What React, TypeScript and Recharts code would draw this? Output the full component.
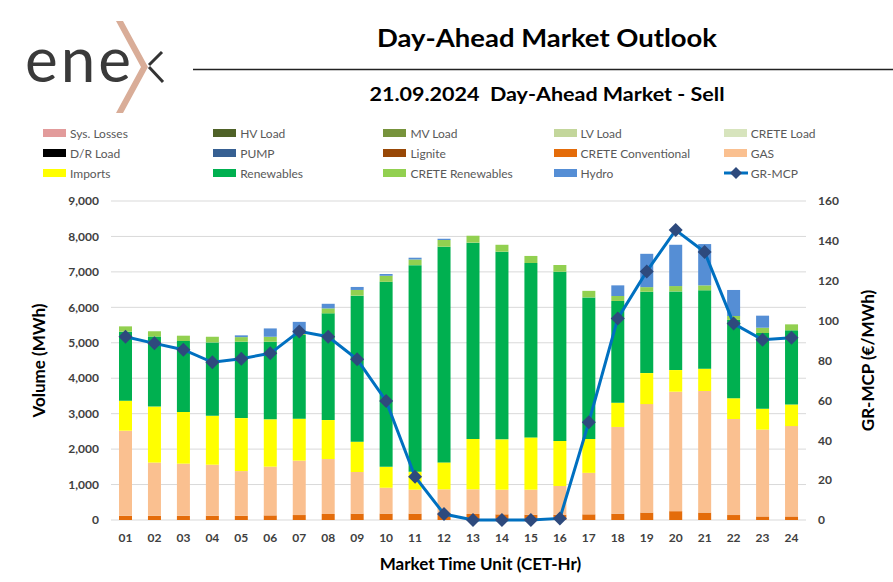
import React from "react";
import { ComposedChart, Bar, Line, XAxis, YAxis, CartesianGrid, Legend } from "recharts";

const FONT = "Lato, 'Open Sans', sans-serif";

// market time units
const hours = ["01", "02", "03", "04", "05", "06", "07", "08", "09", "10", "11", "12",
  "13", "14", "15", "16", "17", "18", "19", "20", "21", "22", "23", "24"];

// series that are empty on this day
const zeros = [0, 0, 0, 0, 0, 0, 0, 0, 0, 0, 0, 0, 0, 0, 0, 0, 0, 0, 0, 0, 0, 0, 0, 0];

const creteConventional = [120, 120, 120, 120, 120, 130, 140, 170, 180, 180, 180, 170,
  170, 160, 150, 150, 160, 180, 210, 250, 210, 140, 100, 100];
const gas = [2400, 1500, 1470, 1440, 1260, 1375, 1535, 1550, 1175, 730, 675, 695,
  695, 695, 705, 810, 1170, 2445, 3060, 3370, 3430, 2710, 2450, 2550];
const imports = [846, 1580, 1460, 1380, 1495, 1335, 1185, 1100, 855, 590, 505, 760,
  1420, 1420, 1475, 1270, 955, 685, 875, 610, 630, 585, 590, 610];
const renewables = [1947, 1975, 2000, 2070, 2155, 2190, 2360, 3010, 4120, 5220, 5830, 6085,
  5540, 5295, 4920, 4775, 3995, 2870, 2295, 2220, 2210, 2210, 2135, 2090];
const creteRenewables = [150, 150, 150, 160, 130, 140, 30, 140, 160, 170, 160, 190,
  195, 195, 200, 190, 185, 140, 130, 150, 140, 110, 150, 170];
const hydro = [0, 0, 0, 0, 50, 235, 340, 130, 85, 50, 50, 35,
  0, 0, 0, 0, 0, 300, 940, 1165, 1165, 735, 340, 0];

// GR-MCP price, €/MWh
const grMcp = [91.9, 88.6, 85.4, 79.1, 80.9, 83.6, 94.6, 91.9, 80.6, 59.7, 21.7, 3.0,
  0, 0, 0, 0.8, 49.0, 101.1, 124.7, 145.4, 134.4, 98.5, 90.4, 91.4];

const volumeTicks = [0, 1000, 2000, 3000, 4000, 5000, 6000, 7000, 8000, 9000];
const priceTicks = [0, 20, 40, 60, 80, 100, 120, 140, 160];

const series = [
  { key: "sysLosses", name: "Sys. Losses", color: "#E29B9B", values: zeros },
  { key: "hvLoad", name: "HV Load", color: "#4F6228", values: zeros },
  { key: "mvLoad", name: "MV Load", color: "#77933C", values: zeros },
  { key: "lvLoad", name: "LV Load", color: "#C3D69B", values: zeros },
  { key: "creteLoad", name: "CRETE Load", color: "#D7E4BD", values: zeros },
  { key: "drLoad", name: "D/R Load", color: "#000000", values: zeros },
  { key: "pump", name: "PUMP", color: "#376092", values: zeros },
  { key: "lignite", name: "Lignite", color: "#984807", values: zeros },
  { key: "creteConv", name: "CRETE Conventional", color: "#E46C0A", values: creteConventional },
  { key: "gas", name: "GAS", color: "#FAC090", values: gas },
  { key: "imports", name: "Imports", color: "#FFFF00", values: imports },
  { key: "renewables", name: "Renewables", color: "#00B050", values: renewables },
  { key: "creteRen", name: "CRETE Renewables", color: "#92D050", values: creteRenewables },
  { key: "hydro", name: "Hydro", color: "#558ED5", values: hydro },
];

const data = hours.map((hour, i) => {
  const row: Record<string, number | string> = { hour, mcp: grMcp[i] };
  series.forEach((s) => {
    row[s.key] = s.values[i];
  });
  return row;
});

const legendOrder = [...series.map((s) => s.name), "GR-MCP"];

function LegendGrid(props: any) {
  const payload: any[] = props.payload || [];
  const items = legendOrder
    .map((n) => payload.find((p) => p.value === n))
    .filter(Boolean);
  return (
    <div style={{ position: "relative", width: 893, height: 60, fontFamily: FONT, fontSize: 12, color: "#595959" }}>
      {items.map((it: any, i: number) => {
        const col = i % 5;
        const row = Math.floor(i / 5);
        const isLine = it.value === "GR-MCP";
        return (
          <div
            key={it.value}
            style={{ position: "absolute", left: 43 + col * 170.2, top: row * 20, height: 16, display: "flex", alignItems: "center" }}
          >
            {isLine ? (
              <svg width={24} height={14} style={{ marginRight: 3 }}>
                <line x1={0} y1={7} x2={24} y2={7} stroke="#0070C0" strokeWidth={3} />
                <polygon points="12,1 18,7 12,13 6,7" fill="#2E4A7D" />
              </svg>
            ) : (
              <span style={{ display: "inline-block", width: 23, height: 8, background: it.color, marginRight: 4 }} />
            )}
            <span>{it.value}</span>
          </div>
        );
      })}
    </div>
  );
}

function Diamond(props: any) {
  const { cx, cy, index } = props;
  if (cx == null || cy == null) return null;
  return (
    <polygon
      key={`d-${index}`}
      points={`${cx},${cy - 7} ${cx + 7},${cy} ${cx},${cy + 7} ${cx - 7},${cy}`}
      fill="#2E4A7D"
    />
  );
}

const tickStyle = { fill: "#404040", fontSize: 12, fontWeight: 700, fontFamily: FONT };
const labelStyle = { fill: "#000", fontSize: 17, fontWeight: 700, fontFamily: FONT };

export default function App() {
  return (
    <div style={{ position: "absolute", left: 0, top: 0, width: 893, height: 582, background: "#fff" }}>
      <ComposedChart
        width={893}
        height={582}
        data={data}
        margin={{ top: 201, right: 0, bottom: 0, left: 0 }}
      >
        <CartesianGrid yAxisId="left" vertical={false} stroke="#D9D9D9" />
        <XAxis
          dataKey="hour"
          height={62}
          axisLine={false}
          tickLine={false}
          tickSize={0}
          tickMargin={13}
          interval={0}
          tick={tickStyle}
          label={{ value: "Market Time Unit (CET-Hr)", position: "center", dx: 22, dy: 13, style: labelStyle }}
        />
        <YAxis
          yAxisId="left"
          width={111}
          domain={[0, 9000]}
          ticks={volumeTicks}
          axisLine={false}
          tickLine={false}
          tickSize={0}
          tickMargin={12}
          tick={tickStyle}
          tickFormatter={(v: number) => v.toLocaleString("en-US")}
          label={{ value: "Volume (MWh)", angle: -90, position: "center", dx: -17, style: labelStyle }}
        />
        <YAxis
          yAxisId="right"
          orientation="right"
          width={87}
          domain={[0, 160]}
          ticks={priceTicks}
          axisLine={false}
          tickLine={false}
          tickSize={0}
          tickMargin={12}
          tick={tickStyle}
          label={{ value: "GR-MCP (€/MWh)", angle: -90, position: "center", dx: 18, style: labelStyle }}
        />
        <Legend
          layout="horizontal"
          verticalAlign="middle"
          align="center"
          wrapperStyle={{ top: 125, left: 0, width: 893 }}
          content={<LegendGrid />}
        />
        {series.map((s) => (
          <Bar
            key={s.key}
            yAxisId="left"
            dataKey={s.key}
            name={s.name}
            stackId="vol"
            fill={s.color}
            barSize={13}
            isAnimationActive={false}
          />
        ))}
        <Line
          yAxisId="right"
          type="linear"
          dataKey="mcp"
          name="GR-MCP"
          stroke="#0070C0"
          strokeWidth={3}
          dot={<Diamond />}
          activeDot={false}
          isAnimationActive={false}
        />
      </ComposedChart>
      <svg
        width={893}
        height={120}
        style={{ position: "absolute", left: 0, top: 0, pointerEvents: "none" }}
      >
        <text x={25} y={82} fontFamily={FONT} fontSize={62} fill="#3A3A3A" letterSpacing={3}>
          ene
        </text>
        <polygon points="116,21 123,21 148,67 123,113 116,113 141,67" fill="#D9AD98" />
        <line x1={149} y1={65} x2={162} y2={52} stroke="#333" strokeWidth={3} />
        <line x1={149} y1={67} x2={163} y2={82} stroke="#333" strokeWidth={3} />
        <text x={547} y={47} textAnchor="middle" fontFamily={FONT} fontWeight={700} fontSize={24} fill="#000" textLength={340} lengthAdjust="spacingAndGlyphs">
          Day-Ahead Market Outlook
        </text>
        <line x1={193} y1={69.5} x2={893} y2={69.5} stroke="#222" strokeWidth={1.5} />
        <text x={547} y={101} textAnchor="middle" fontFamily={FONT} fontWeight={700} fontSize={19} fill="#000" textLength={355} lengthAdjust="spacingAndGlyphs">
          {"21.09.2024\u00A0\u00A0Day-Ahead Market - Sell"}
        </text>
      </svg>
    </div>
  );
}
